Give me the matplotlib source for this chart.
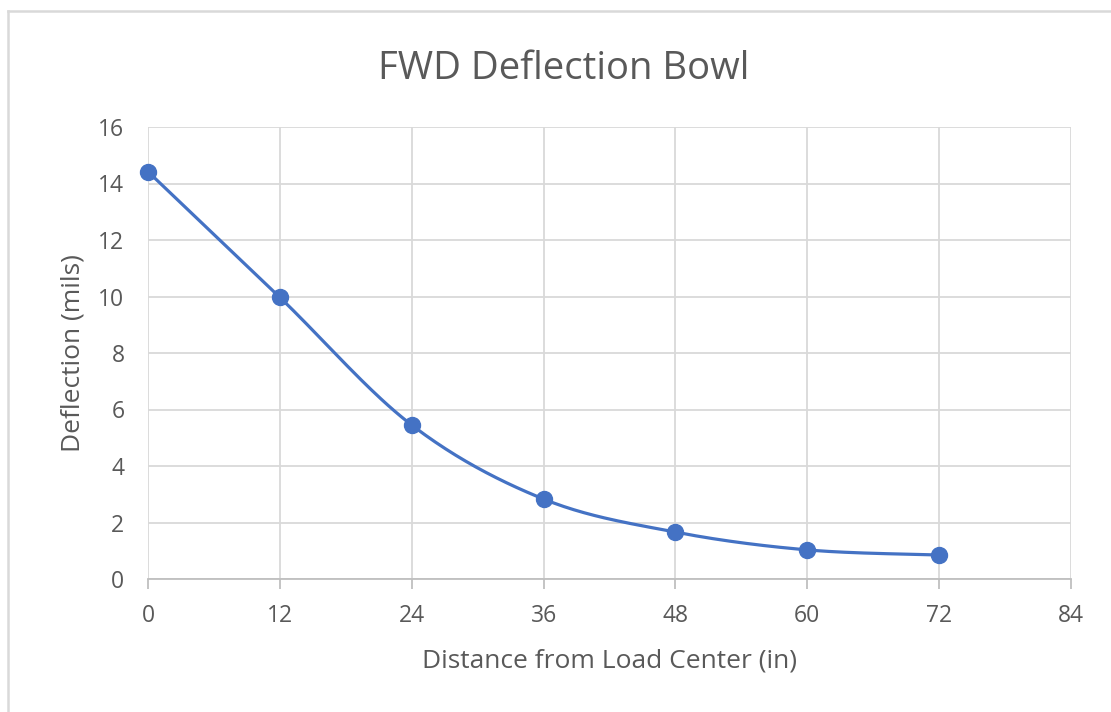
import numpy as np
import matplotlib
matplotlib.use("Agg")
import matplotlib.pyplot as plt
from matplotlib.lines import Line2D

distance = [0, 12, 24, 36, 48, 60, 72]
deflection = [14.42, 9.97, 5.45, 2.83, 1.66, 1.03, 0.85]
x_ticks = [0, 12, 24, 36, 48, 60, 72, 84]
y_ticks = [0, 2, 4, 6, 8, 10, 12, 14, 16]

def catmull_rom(xs, ys, n=40):
    xs = np.asarray(xs, float); ys = np.asarray(ys, float)
    P = np.column_stack([xs, ys])
    P = np.vstack([P[0], P, P[-1]])
    out = []
    for i in range(1, len(P) - 2):
        p0, p1, p2, p3 = P[i - 1], P[i], P[i + 1], P[i + 2]
        c1 = p1 + (p2 - p0) / 6.0
        c2 = p2 - (p3 - p1) / 6.0
        t = np.linspace(0, 1, n)[:, None]
        seg = ((1 - t) ** 3) * p1 + 3 * ((1 - t) ** 2) * t * c1 + 3 * (1 - t) * t ** 2 * c2 + t ** 3 * p2
        out.append(seg if i == 1 else seg[1:])
    s = np.vstack(out)
    return s[:, 0], s[:, 1]

plt.rcParams['font.family'] = ['Open Sans', 'DejaVu Sans']
text_color = '#595959'

W, H = 1111, 712
fig = plt.figure(figsize=(W / 100, H / 100), dpi=100)
# chart-area border (only top and left visible in the reference crop)
fig.lines.append(Line2D([8 / W, 1], [1 - 11 / H, 1 - 11 / H], transform=fig.transFigure,
                        color='#d9d9d9', linewidth=1.8))
fig.lines.append(Line2D([8 / W, 8 / W], [0, 1 - 11 / H], transform=fig.transFigure,
                        color='#d9d9d9', linewidth=1.8))
ax = fig.add_axes([148 / W, 1 - 579 / H, (1071 - 148) / W, (579 - 127) / H])

sx, sy = catmull_rom(distance, deflection)
ax.plot(sx, sy, color='#4472C4', linewidth=2.3, solid_capstyle='round', zorder=3, clip_on=False)
ax.plot(distance, deflection, 'o', color='#4472C4', markersize=11.5, zorder=4, clip_on=False)

ax.set_xlim(0, 84)
ax.set_ylim(0, 16)
ax.set_xticks(x_ticks)
ax.set_yticks(y_ticks)
ax.grid(True, color='#d9d9d9', linewidth=1.3)
ax.set_axisbelow(True)
for s in ['top', 'right', 'left']:
    ax.spines[s].set_visible(False)
ax.spines['bottom'].set_color('#bfbfbf')
ax.spines['bottom'].set_linewidth(1.3)
ax.tick_params(axis='x', colors='#bfbfbf', length=7, width=1.3, labelcolor=text_color, labelsize=16.5, pad=11)
ax.tick_params(axis='y', length=0, labelcolor=text_color, labelsize=16.5, pad=17)

ax.set_xlabel('Distance from Load Center (in)', fontsize=19, color=text_color, labelpad=15)
ax.set_ylabel('Deflection (mils)', fontsize=19, color=text_color, labelpad=9)
fig.text(564 / W, 1 - 79 / H, 'FWD Deflection Bowl', fontsize=27.5, color=text_color,
         ha='center', va='baseline')

fig.savefig('out.png', dpi=100)
